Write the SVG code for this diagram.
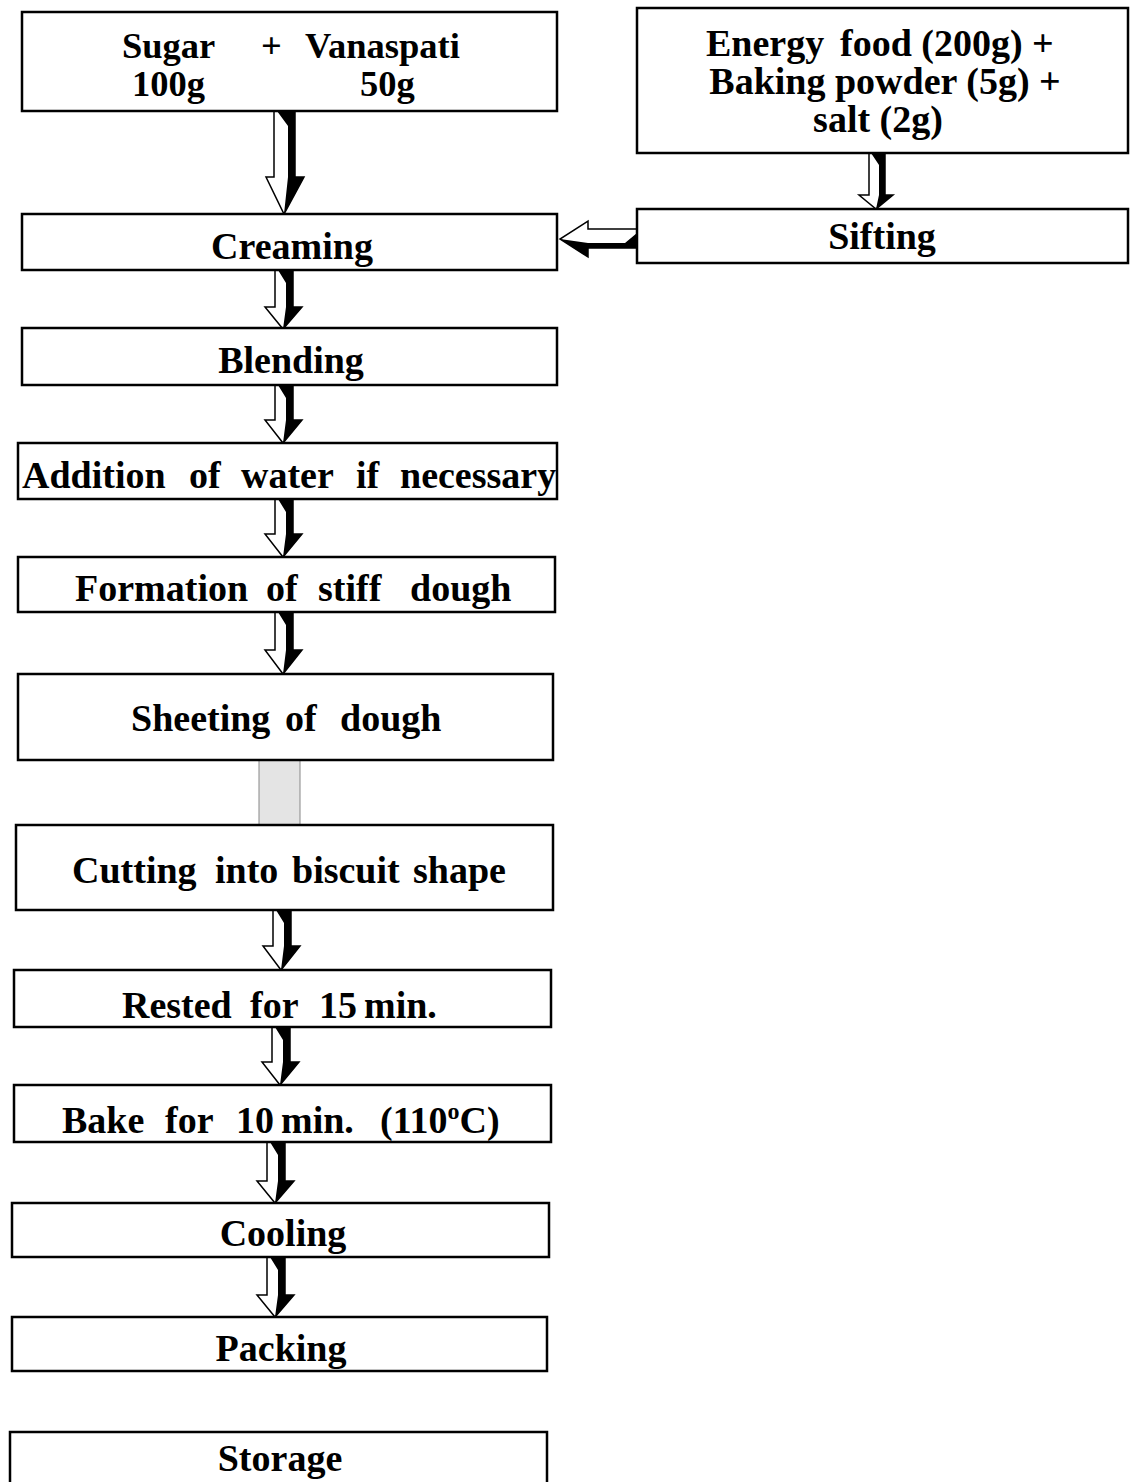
<svg xmlns="http://www.w3.org/2000/svg" width="1140" height="1482" viewBox="0 0 1140 1482">
<style>
.box{fill:#fff;stroke:#000;stroke-width:2.5}
.t{font-family:"Liberation Serif","Times New Roman",serif;font-weight:bold;font-size:38px;fill:#000}
.s{font-size:36.5px}
.aw{fill:#fff;stroke:#000;stroke-width:1.5;stroke-linejoin:miter}
.ab{fill:#000}
</style>
<rect width="1140" height="1482" fill="#fff"/>
<g id="connectors">
<path class="aw" d="M274 111 H295 V177 H304 L284 214 L266 177 H274 Z"/>
<path class="ab" d="M277 111 H295 V177 H304 L284 214 L288 177 V126 Z"/>
<path class="aw" d="M869 153 H885 V195 H893 L876 209 L859 195 H869 Z"/>
<path class="ab" d="M871 153 H885 V195 H893 L876 209 L879 195 V165 Z"/>
<path class="aw" d="M637 229 H588 V221 L560 239 L588 257 V248 H637 Z"/>
<path class="ab" d="M637 233 V248 H588 V257 L560 239 L588 243 H625 Z"/>
<path class="aw" d="M275 270 H293 V307 H302 L283 329 L265 307 H275 Z"/>
<path class="ab" d="M278 270 H293 V307 H302 L283 329 L286 307 V283 Z"/>
<path class="aw" d="M275 385 H293 V420 H302 L283 443 L265 420 H275 Z"/>
<path class="ab" d="M278 385 H293 V420 H302 L283 443 L286 420 V398 Z"/>
<path class="aw" d="M275 499 H293 V534 H302 L283 557 L265 534 H275 Z"/>
<path class="ab" d="M278 499 H293 V534 H302 L283 557 L286 534 V512 Z"/>
<path class="aw" d="M275 612 H293 V650 H302 L283 674 L265 650 H275 Z"/>
<path class="ab" d="M278 612 H293 V650 H302 L283 674 L286 650 V625 Z"/>
<rect x="259" y="760" width="41" height="65" fill="#e4e4e4" stroke="#888" stroke-width="1"/>
<path class="aw" d="M273 910 H291 V946 H300 L281 970 L263 946 H273 Z"/>
<path class="ab" d="M276 910 H291 V946 H300 L281 970 L284 946 V923 Z"/>
<path class="aw" d="M272 1027 H290 V1062 H299 L280 1085 L262 1062 H272 Z"/>
<path class="ab" d="M275 1027 H290 V1062 H299 L280 1085 L283 1062 V1040 Z"/>
<path class="aw" d="M267 1142 H285 V1181 H294 L275 1203 L257 1181 H267 Z"/>
<path class="ab" d="M270 1142 H285 V1181 H294 L275 1203 L278 1181 V1155 Z"/>
<path class="aw" d="M267 1257 H285 V1295 H294 L275 1317 L257 1295 H267 Z"/>
<path class="ab" d="M270 1257 H285 V1295 H294 L275 1317 L278 1295 V1270 Z"/>
</g>
<g id="sugar">
<rect class="box" x="22" y="12" width="535" height="99"/>
<text class="t s" y="58"><tspan x="122">Sugar</tspan><tspan x="261">+</tspan><tspan x="305">Vanaspati</tspan></text>
<text class="t s" y="96"><tspan x="132">100g</tspan><tspan x="360">50g</tspan></text>
</g>
<g id="energy">
<rect class="box" x="637" y="8" width="491" height="145"/>
<text class="t" y="56"><tspan x="706">Energy</tspan><tspan x="840">food (200g) +</tspan></text>
<text class="t" y="94" x="885" text-anchor="middle">Baking powder (5g) +</text>
<text class="t" y="132" x="878" text-anchor="middle">salt (2g)</text>
</g>
<g id="sifting">
<rect class="box" x="637" y="209" width="491" height="54"/>
<text class="t" x="882" y="249" text-anchor="middle">Sifting</text>
</g>
<g id="creaming">
<rect class="box" x="22" y="214" width="535" height="56"/>
<text class="t" x="292" y="259" text-anchor="middle">Creaming</text>
</g>
<g id="blending">
<rect class="box" x="22" y="328" width="535" height="57"/>
<text class="t" x="291" y="373" text-anchor="middle">Blending</text>
</g>
<g id="addition">
<rect class="box" x="18" y="443" width="539" height="56"/>
<text class="t" y="488"><tspan x="22">Addition</tspan><tspan x="189">of</tspan><tspan x="241">water</tspan><tspan x="356">if</tspan><tspan x="400">necessary</tspan></text>
</g>
<g id="formation">
<rect class="box" x="18" y="557" width="537" height="55"/>
<text class="t" y="601"><tspan x="75">Formation</tspan><tspan x="266">of</tspan><tspan x="318">stiff</tspan><tspan x="410">dough</tspan></text>
</g>
<g id="sheeting">
<rect class="box" x="18" y="674" width="535" height="86"/>
<text class="t" y="731"><tspan x="131">Sheeting</tspan><tspan x="285">of</tspan><tspan x="340">dough</tspan></text>
</g>
<g id="cutting">
<rect class="box" x="16" y="825" width="537" height="85"/>
<text class="t" y="883"><tspan x="72">Cutting</tspan><tspan x="215">into</tspan><tspan x="292">biscuit</tspan><tspan x="413">shape</tspan></text>
</g>
<g id="rested">
<rect class="box" x="14" y="970" width="537" height="57"/>
<text class="t" y="1018"><tspan x="122">Rested</tspan><tspan x="250">for</tspan><tspan x="319">15</tspan><tspan x="364">min.</tspan></text>
</g>
<g id="bake">
<rect class="box" x="14" y="1085" width="537" height="57"/>
<text class="t" y="1133"><tspan x="62">Bake</tspan><tspan x="165">for</tspan><tspan x="236">10</tspan><tspan x="281">min.</tspan><tspan x="380">(110</tspan><tspan font-size="24" dy="-14">o</tspan><tspan dy="14">C)</tspan></text>
</g>
<g id="cooling">
<rect class="box" x="12" y="1203" width="537" height="54"/>
<text class="t" x="283" y="1246" text-anchor="middle">Cooling</text>
</g>
<g id="packing">
<rect class="box" x="12" y="1317" width="535" height="54"/>
<text class="t" x="281" y="1361" text-anchor="middle">Packing</text>
</g>
<g id="storage">
<rect class="box" x="10" y="1432" width="537" height="70"/>
<text class="t" x="280" y="1471" text-anchor="middle">Storage</text>
</g>
</svg>
